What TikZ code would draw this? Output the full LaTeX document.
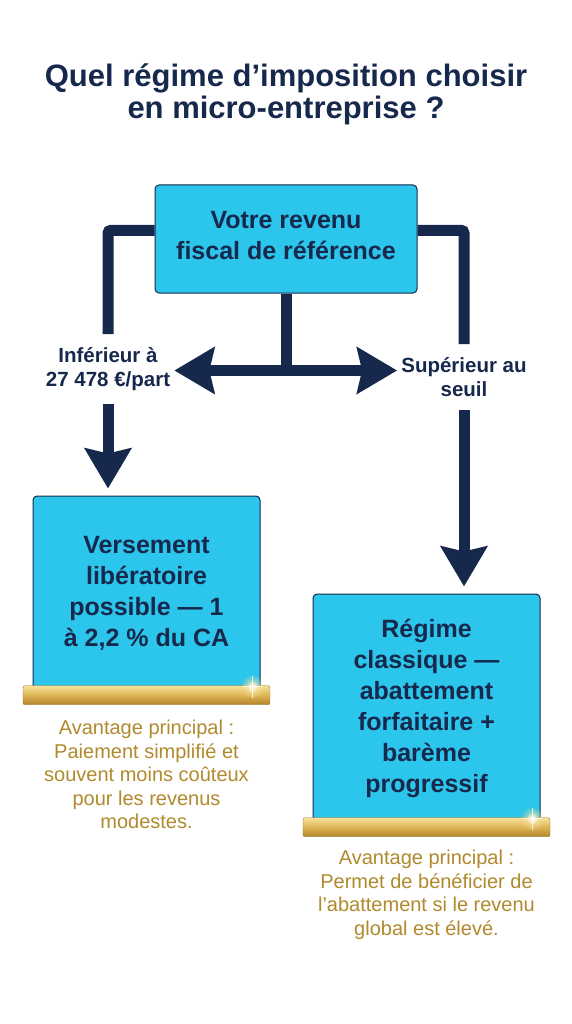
\documentclass[tikz,border=0pt]{standalone}
\usepackage{fontspec}
\setmainfont{Liberation Sans}
\usepackage{xcolor}
\usetikzlibrary{arrows.meta, positioning, calc, fadings}

\definecolor{navy}{HTML}{16294D}
\definecolor{cyanbox}{HTML}{2CC5EB}
\definecolor{goldtxt}{HTML}{B08A2C}
\definecolor{goldlight}{HTML}{F6E29A}
\definecolor{goldmid}{HTML}{DDB553}
\definecolor{golddark}{HTML}{B3832A}

\tikzfading[name=glow, inner color=transparent!0, outer color=transparent!100]

\begin{document}
\begin{tikzpicture}[
    x=1pt, y=-1pt,
    >={Stealth[length=40pt, width=46pt, inset=5pt]},
    baseBox/.style={
        rectangle,
        rounded corners=4pt,
        draw=navy,
        line width=1pt,
        fill=cyanbox,
        text=navy,
        align=center,
        inner sep=0pt,
        font=\fontsize{25}{31}\selectfont\bfseries
    },
    revbox/.style={baseBox, minimum width=262pt, minimum height=108pt, font=\fontsize{25}{31}\selectfont\bfseries},
    choice/.style={baseBox, minimum width=227pt},
    goldbar/.style={rectangle, rounded corners=2pt, top color=goldlight, bottom color=golddark, middle color=goldmid,
        draw=golddark!85!black, line width=0.4pt, minimum width=247pt, minimum height=19pt, inner sep=0pt},
    cond/.style={text=navy, align=center, font=\fontsize{20.5}{24}\selectfont\bfseries, inner xsep=4pt, inner ysep=13pt},
    gain/.style={text=goldtxt, align=center, font=\fontsize{20}{23.5}\selectfont, inner sep=0pt},
    trunk/.style={draw=navy, line width=11pt, rounded corners=3pt},
    seta/.style={trunk, ->, shorten >=7pt}
]
    \fill[white] (0,0) rectangle (572,1024);
    \useasboundingbox (0,0) rectangle (572,1024);

    % --- 1. Title ---
    \node[text=navy, align=center, inner sep=0pt, font=\fontsize{31}{32}\selectfont\bfseries] (titre) at (286,94)
        {Quel régime d’imposition choisir\\en micro-entreprise ?};

    % --- 2. Starting point ---
    \node[revbox] (revenu) at (286,239) {Votre revenu\\fiscal de référence\\[-23pt]};
    \coordinate[below=77pt of revenu.south] (fork);

    % --- 3. Conditions ---
    \node[cond] (bas) at (108,369) {Inférieur à\\27 478 €/part};
    \node[cond] (haut) at (464,377) {Supérieur au\\seuil};

    % --- 4. Regimes ---
    \node[choice, minimum height=194pt] (liberatoire) at (146.5,593)
        {Versement\\libératoire\\possible — 1\\à 2,2 \% du CA};
    \node[goldbar, below=-5pt of liberatoire.south] (barbas) {};
    \node[choice, minimum height=228pt] (classique) at (426.5,708)
        {Régime\\classique —\\abattement\\forfaitaire +\\barème\\progressif};
    \node[goldbar, below=-5pt of classique.south] (barhaut) {};

    \foreach \b in {barbas, barhaut} {
        \fill[goldlight, path fading=glow] ($(\b.north east)+(-18,1)$) circle (12pt);
        \fill[white, path fading=glow] ($(\b.north east)+(-18,1)$) circle (6pt);
        \draw[white, line width=0.5pt, opacity=0.8] ($(\b.north east)+(-18,-10)$) -- ($(\b.north east)+(-18,12)$);
        \draw[white, line width=0.5pt, opacity=0.8] ($(\b.north east)+(-28,1)$) -- ($(\b.north east)+(-8,1)$);
    }

    % --- 5. Advantages ---
    \node[gain, below=15pt of barbas] (gainbas)
        {Avantage principal :\\Paiement simplifié et\\souvent moins coûteux\\pour les revenus\\modestes.};
    \node[gain, below=13pt of barhaut] (gainhaut)
        {Avantage principal :\\Permet de bénéficier de\\l’abattement si le revenu\\global est élevé.};

    % --- Connections ---
    \draw[trunk] ($(revenu.north west)!0.42!(revenu.south west)$) -| (bas.north);
    \draw[seta] (bas.south) -- (bas.south |- liberatoire.north);

    \draw[trunk] ($(revenu.north east)!0.42!(revenu.south east)$) -| (haut.north);
    \draw[seta] (haut.south) -- (haut.south |- classique.north);

    \draw[trunk] (revenu.south) -- (fork);
    \draw[trunk, <->] (bas.east |- fork) -- (haut.west |- fork);
\end{tikzpicture}
\end{document}
